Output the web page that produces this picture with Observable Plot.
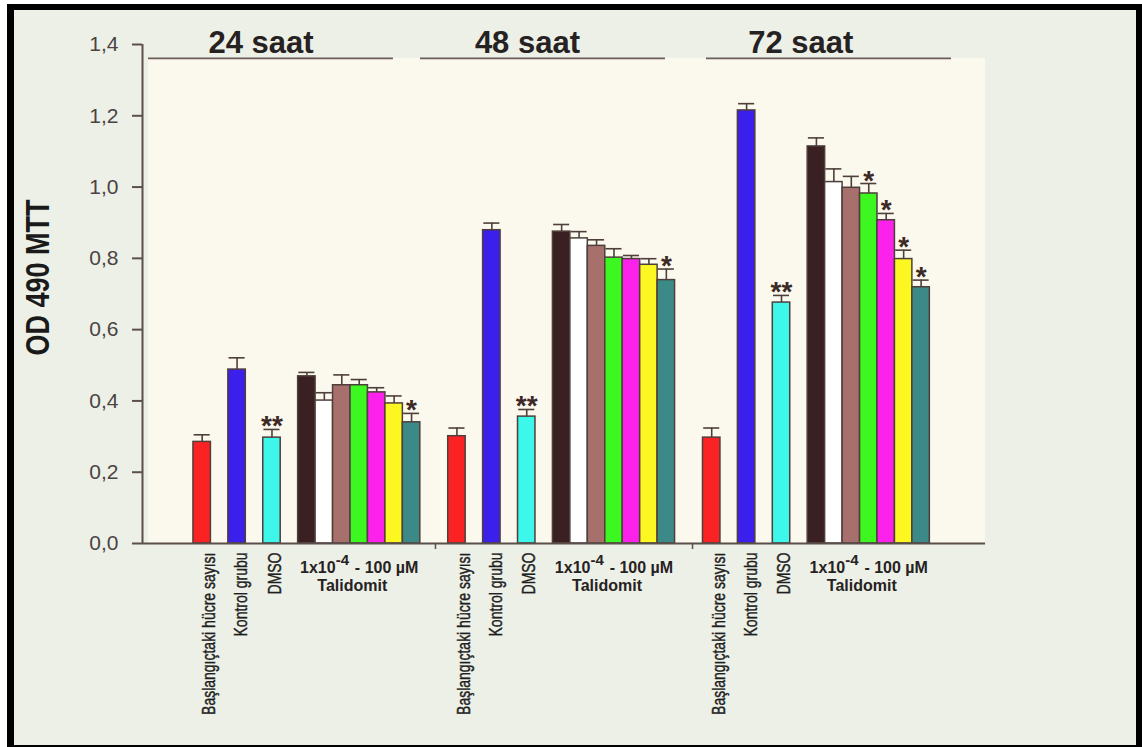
<!DOCTYPE html>
<html>
<head>
<meta charset="utf-8">
<script src="https://cdn.jsdelivr.net/npm/d3@7"></script>
<script src="https://cdn.jsdelivr.net/npm/@observablehq/plot@0.6"></script>
<style>
  html, body { margin: 0; padding: 0; background: #ffffff; overflow: hidden; }
  #frame {
    position: absolute; left: 7px; top: 4px; width: 1135px; height: 747px;
    box-sizing: border-box; border: 6px solid #000; border-left-width: 7px;
    background: #edf0e7;
  }
  #chart { position: absolute; left: 0; top: 0; }
</style>
</head>
<body>
<div id="frame"></div>
<div id="chart"></div>
<script>
// Incubation times (one block of bars each)
const timePoints = ["24 saat", "48 saat", "72 saat"];

// Bar categories inside each block
const groups = [
  "Başlangıçtaki hücre sayısı", "Kontrol grubu", "DMSO",
  "Talidomit 1x10⁻⁴ µM", "Talidomit 1x10⁻³ µM", "Talidomit 0,01 µM",
  "Talidomit 0,1 µM", "Talidomit 1 µM", "Talidomit 10 µM", "Talidomit 100 µM"
];
const groupColors = [
  "#fa2222", "#3b20ec", "#3cf7ea",
  "#3a2022", "#ffffff", "#a8706c", "#3cf720", "#fc22ec", "#fcf720", "#3c8a87"
];

// Mean OD 490 (MTT) and standard error per category
const mean24 = [0.285, 0.488, 0.297, 0.469, 0.401, 0.444, 0.444, 0.424, 0.393, 0.340];
const sem24  = [0.020, 0.033, 0.023, 0.011, 0.022, 0.029, 0.016, 0.013, 0.021, 0.025];
const sig24  = ["", "", "**", "", "", "", "", "", "", "*"];

const mean48 = [0.301, 0.879, 0.356, 0.875, 0.856, 0.835, 0.802, 0.798, 0.782, 0.739];
const sem48  = [0.023, 0.020, 0.020, 0.020, 0.019, 0.017, 0.025, 0.010, 0.017, 0.031];
const sig48  = ["", "", "**", "", "", "", "", "", "", "*"];

const mean72 = [0.297, 1.215, 0.676, 1.114, 1.014, 0.998, 0.982, 0.907, 0.798, 0.719];
const sem72  = [0.027, 0.019, 0.020, 0.024, 0.037, 0.032, 0.028, 0.019, 0.025, 0.020];
const sig72  = ["", "", "**", "", "", "", "*", "*", "*", "*"];

// Axis and annotation text
const yTicks = [0, 0.2, 0.4, 0.6, 0.8, 1.0, 1.2, 1.4];
const yLabel = "OD 490 MTT";
const doseText = ["1x10", "-4", "- 100 µM"];
const drugText = "Talidomit";

// ---- layout (x in bar-slot units) ----
const slot = [0, 2, 4, 6, 7, 8, 9, 10, 11, 12];   // slot of each bar inside a block
const blockStep = 14.6;                          // distance between block starts
const xDomain = [-2.92, 45.39];
const panelLeft = -2.58;
const panelTop = 1.361;
const headerSpans = [[-2.58, 11.46], [13.01, 27.05], [29.4, 43.44]];
const headerX = [3.87, 19.14, 34.8];
const separators = [13.87, 28.6];
const labelShift = [0.42, 0.25, 0.17];

const means = [mean24, mean48, mean72];
const sems = [sem24, sem48, sem72];
const sigs = [sig24, sig48, sig72];

const rows = timePoints.flatMap((t, b) => groups.map((g, i) => ({
  time: t, group: g, i,
  x1: b * blockStep + slot[i],
  fill: groupColors[i],
  mean: means[b][i], sem: sems[b][i], sig: sigs[b][i]
})));
const namedRows = rows.filter(d => d.i < 3);
const blocks = timePoints.map((t, b) => ({time: t, start: b * blockStep}));
const headers = timePoints.map((t, b) => ({time: t, x: headerX[b], x1: headerSpans[b][0], x2: headerSpans[b][1]}));

const ink = "#4e3f3b";

const chart = Plot.plot({
  width: 1142,
  height: 747,
  marginLeft: 142,
  marginRight: 157,
  marginTop: 44,
  marginBottom: 204,
  style: {background: "transparent", fontFamily: "'Liberation Sans', Arial, sans-serif", overflow: "visible"},
  x: {domain: xDomain},
  y: {domain: [0, 1.4]},
  color: {type: "identity"},
  marks: [
    // cream plotting panel
    Plot.rect([0], {x1: panelLeft, x2: xDomain[1], y1: 0, y2: panelTop, fill: "#fbf8ee"}),
    // time headers with underline
    Plot.ruleY(headers, {x1: "x1", x2: "x2", y: panelTop, stroke: "#6b5d58", strokeWidth: 1.8}),
    Plot.text(headers, {x: "x", y: 1.4, text: "time", dy: 8, lineAnchor: "bottom",
      fontSize: 31, fontWeight: "bold", fill: "#262222"}),
    // y axis
    Plot.axisY(yTicks, {tickSize: 10, tickPadding: 14, strokeWidth: 2, stroke: "#5b4f4b",
      fill: "#4b4343", fontSize: 21, label: null,
      tickFormat: d => d.toFixed(1).replace(".", ",")}),
    Plot.ruleX([xDomain[0]], {y1: 0, y2: 1.4, stroke: "#5b4f4b", strokeWidth: 2}),
    Plot.text([yLabel], {frameAnchor: "left", textAnchor: "middle", lineAnchor: "middle",
      dx: -104.5, dy: -16.5, rotate: -90,
      fontSize: 27, fontWeight: "bold", fill: "#1a1a1a"}),
    // bars
    Plot.rect(rows, {x1: "x1", x2: d => d.x1 + 1, y1: 0, y2: "mean", fill: "fill",
      stroke: ink, strokeWidth: 1.5}),
    // error bars
    Plot.ruleX(rows, {x: d => d.x1 + 0.5, y1: "mean", y2: d => d.mean + d.sem, stroke: ink, strokeWidth: 1.6}),
    Plot.ruleY(rows, {y: d => d.mean + d.sem, x1: d => d.x1 + 0.04, x2: d => d.x1 + 0.96, stroke: ink, strokeWidth: 1.6}),
    // significance marks
    Plot.text(rows.filter(d => d.sig), {x: d => d.x1 + 0.5, y: d => d.mean + d.sem, text: "sig",
      dy: 6, lineAnchor: "bottom", fontSize: 28, fontWeight: "bold", fill: "#3b2a25"}),
    // x axis line and block separators
    Plot.ruleY([0], {x1: xDomain[0], x2: xDomain[1], stroke: "#5b4f4b", strokeWidth: 2}),
    Plot.axisX(separators, {tickSize: 6, strokeWidth: 1.5, stroke: "#5b4f4b", tickFormat: () => "", label: null}),
    // category names under the first three bars
    Plot.text(namedRows, {x: d => d.x1 + 0.5 + labelShift[d.i], y: 0, text: "group", rotate: -90,
      textAnchor: "end", lineAnchor: "middle", dy: 9, fontSize: 14, fill: "#1f1f1f",
      stroke: "#1f1f1f", strokeWidth: 0.35}),
    // treatment range label
    Plot.text(blocks, {x: d => d.start + 8.15, y: 0, text: () => doseText[0], textAnchor: "end",
      lineAnchor: "bottom", dy: 29, fontSize: 16, fontWeight: "bold", fill: "#262222"}),
    Plot.text(blocks, {x: d => d.start + 8.15, y: 0, text: () => doseText[1], textAnchor: "start",
      lineAnchor: "bottom", dy: 21, fontSize: 15, fontWeight: "bold", fill: "#262222"}),
    Plot.text(blocks, {x: d => d.start + 9.25, y: 0, text: () => doseText[2], textAnchor: "start",
      lineAnchor: "bottom", dy: 29, fontSize: 16, fontWeight: "bold", fill: "#262222"}),
    Plot.text(blocks, {x: d => d.start + 9.1, y: 0, text: () => drugText, textAnchor: "middle",
      lineAnchor: "bottom", dy: 47, fontSize: 16, fontWeight: "bold", fill: "#262222"})
  ]
});

// Rotated labels are set in a horizontally widened face
d3.select(chart).selectAll("text").each(function() {
  const t = this.getAttribute("transform");
  if (t && t.includes("rotate(-90)")) {
    this.setAttribute("transform", t.replace("rotate(", "scale(1.25,1) rotate("));
  }
});

document.getElementById("chart").appendChild(chart);
</script>
</body>
</html>
